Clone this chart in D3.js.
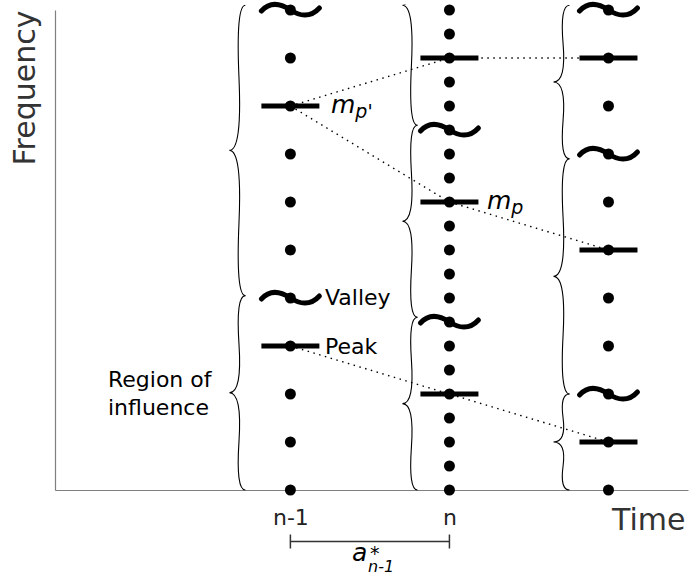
<!DOCTYPE html>
<html>
<head>
<meta charset="utf-8">
<script src="https://cdn.jsdelivr.net/npm/d3@7"></script>
<style>
  body { margin: 0; background: #fff; }
  text { font-family: "DejaVu Sans", sans-serif; }
</style>
</head>
<body>
<svg id="chart" width="697" height="576"></svg>
<script>
// Analysis frames along the time axis
const frameIndex = [0, 1, 2];
const frameLabels = ["n-1", "n", ""];

// Frequency bins sampled in each frame
const binsPrev = [0, 2, 4, 6, 8, 10, 12, 14, 16, 18, 20];
const binsCurr = [0, 1, 2, 3, 4, 5, 6, 7, 8, 9, 10, 11, 12, 13, 14, 15, 16, 17, 18, 19, 20];
const binsNext = [0, 2, 4, 6, 8, 10, 12, 14, 16, 18, 20];

// Spectral peaks per frame
const peaksPrev = [16, 6];
const peaksCurr = [18, 12, 4];
const peaksNext = [18, 10, 2];

// Spectral valleys per frame
const valleysPrev = [20, 8];
const valleysCurr = [15, 7];
const valleysNext = [20, 14, 4];

// Regions of influence (upper bound, lower bound) per frame
const regionsPrev = [[20.2, 8.1], [8.1, 0]];
const regionsCurr = [[25.2, 15.2], [15.2, 7.2], [7.2, 0]];
const regionsNext = [[20.2, 13.8], [13.8, 4.0], [4.0, 0]];

// Peak tracks: peak bin in frames n-1, n, n+1
const tracks = [[16, 18, 18], [16, 12, 10], [6, 4, 2]];

const frames = [
  { bins: binsPrev, peaks: peaksPrev, valleys: valleysPrev, regions: regionsPrev, braceDx: -45, braceW: 16 },
  { bins: binsCurr, peaks: peaksCurr, valleys: valleysCurr, regions: regionsCurr, braceDx: -32, braceW: 15 },
  { bins: binsNext, peaks: peaksNext, valleys: valleysNext, regions: regionsNext, braceDx: -39, braceW: 16 }
];

const svg = d3.select("#chart");
const x = d3.scaleLinear().domain([-1.48, 2.5]).range([55, 688]);
const y = d3.scaleLinear().domain([0, 20]).range([490, 10]);

// clip so braces running past the top are cut
svg.append("defs").append("clipPath").attr("id", "plotclip")
  .append("rect").attr("x", 0).attr("y", 4.5).attr("width", 697).attr("height", 560);

// Axes
const xAxis = svg.append("g").attr("transform", `translate(0,${y(0)})`)
  .call(d3.axisBottom(x).tickValues(frameIndex.slice(0, 2))
    .tickFormat(i => frameLabels[i]).tickSize(0).tickSizeOuter(0).tickPadding(19));
xAxis.select(".domain").attr("stroke", "#808080").attr("stroke-width", 1.2);
xAxis.selectAll(".tick text").attr("font-size", 22).attr("fill", "#222")
  .attr("font-family", "DejaVu Sans");

const yAxis = svg.append("g").attr("transform", `translate(${x(-1.48)},0)`)
  .call(d3.axisLeft(y).tickValues([]).tickSizeOuter(0));
yAxis.select(".domain").attr("stroke", "#808080").attr("stroke-width", 1.2);

svg.append("text").attr("x", 612).attr("y", 530).attr("font-size", 30)
  .attr("fill", "#333").text("Time");
svg.append("text").attr("transform", `translate(35,88) rotate(-90)`)
  .attr("text-anchor", "middle").attr("font-size", 30).attr("fill", "#333").text("Frequency");

// Curly brace between two points, tip pointing left when drawn top to bottom
function bracePath(x1, y1, x2, y2, w, q) {
  let dx = x1 - x2, dy = y1 - y2;
  const len = Math.sqrt(dx * dx + dy * dy);
  dx /= len; dy /= len;
  const qx1 = x1 + q * w * dy, qy1 = y1 - q * w * dx;
  const qx2 = (x1 - 0.25 * len * dx) + (1 - q) * w * dy, qy2 = (y1 - 0.25 * len * dy) - (1 - q) * w * dx;
  const tx1 = (x1 - 0.5 * len * dx) + w * dy, ty1 = (y1 - 0.5 * len * dy) - w * dx;
  const qx3 = x2 + q * w * dy, qy3 = y2 - q * w * dx;
  const qx4 = (x1 - 0.75 * len * dx) + (1 - q) * w * dy, qy4 = (y1 - 0.75 * len * dy) - (1 - q) * w * dx;
  return `M${x1},${y1} Q${qx1},${qy1} ${qx2},${qy2} T${tx1},${ty1}` +
         ` M${x2},${y2} Q${qx3},${qy3} ${qx4},${qy4} T${tx1},${ty1}`;
}

const braceG = svg.append("g").attr("clip-path", "url(#plotclip)");
frames.forEach((f, i) => {
  const bx = x(frameIndex[i]) + f.braceDx;
  braceG.selectAll(null).data(f.regions).enter().append("path")
    .attr("d", r => bracePath(bx, y(r[0]), bx, y(r[1]), f.braceW, 0.6))
    .attr("fill", "none").attr("stroke", "#000").attr("stroke-width", 1.1);
});

// Peak tracks (dotted)
const trackLine = d3.line().x((d, i) => x(frameIndex[i])).y(d => y(d));
svg.selectAll(".track").data(tracks).enter().append("path")
  .attr("class", "track").attr("d", trackLine)
  .attr("fill", "none").attr("stroke", "#000").attr("stroke-width", 1.4)
  .attr("stroke-dasharray", "1.5 4.5");

// Peaks and valleys, then bin dots
const half = 29;
frames.forEach((f, i) => {
  const cx = x(frameIndex[i]);
  svg.selectAll(null).data(f.peaks).enter().append("line")
    .attr("x1", cx - half).attr("x2", cx + half)
    .attr("y1", d => y(d)).attr("y2", d => y(d))
    .attr("stroke", "#000").attr("stroke-width", 5);
  svg.selectAll(null).data(f.valleys).enter().append("path")
    .attr("d", d => {
      const yy = y(d);
      return `M${cx - half},${yy + 1} C${cx - 20},${yy - 9} ${cx - 9},${yy - 6} ${cx},${yy}` +
             ` C${cx + 9},${yy + 6} ${cx + 20},${yy + 8} ${cx + half},${yy - 2}`;
    })
    .attr("fill", "none").attr("stroke", "#000").attr("stroke-width", 5)
    .attr("stroke-linecap", "round");
  svg.selectAll(null).data(f.bins).enter().append("circle")
    .attr("cx", cx).attr("cy", d => y(d)).attr("r", 5.5).attr("fill", "#000");
});

// Annotations
function mathLabel(px, py, sub) {
  const t = svg.append("text").attr("x", px).attr("y", py).attr("font-size", 25)
    .attr("font-style", "italic").attr("fill", "#000");
  t.append("tspan").text("m");
  t.append("tspan").attr("font-size", 19).attr("dy", 5).text(sub);
}
mathLabel(331, y(peaksPrev[0]) + 7, "p'");
mathLabel(487, y(peaksCurr[1]) + 7, "p");

svg.append("text").attr("x", 325).attr("y", y(valleysPrev[1]) + 7)
  .attr("font-size", 22).attr("fill", "#000").text("Valley");
svg.append("text").attr("x", 325).attr("y", y(peaksPrev[1]) + 8)
  .attr("font-size", 22).attr("fill", "#000").text("Peak");

const roi = svg.append("text").attr("font-size", 22).attr("fill", "#000");
roi.append("tspan").attr("x", 108).attr("y", 387).text("Region of");
roi.append("tspan").attr("x", 108).attr("y", 415).text("influence");

// Hop size bracket between frames n-1 and n
const by = 541.5;
const bracket = svg.append("g").attr("stroke", "#333").attr("stroke-width", 1.5);
bracket.append("line").attr("x1", x(0)).attr("x2", x(1)).attr("y1", by).attr("y2", by);
bracket.append("line").attr("x1", x(0)).attr("x2", x(0)).attr("y1", by - 7).attr("y2", by + 7);
bracket.append("line").attr("x1", x(1)).attr("x2", x(1)).attr("y1", by - 7).attr("y2", by + 7);

// hop size symbol a*_{n-1}
const hop = svg.append("text").attr("fill", "#000");
hop.append("tspan").attr("x", 352).attr("y", 561).attr("font-size", 25)
  .attr("font-style", "italic").text("a");
hop.append("tspan").attr("x", 370).attr("y", 560).attr("font-size", 19).text("*");
hop.append("tspan").attr("x", 368).attr("y", 572).attr("font-size", 16)
  .attr("font-style", "italic").text("n-1");
</script>
</body>
</html>
